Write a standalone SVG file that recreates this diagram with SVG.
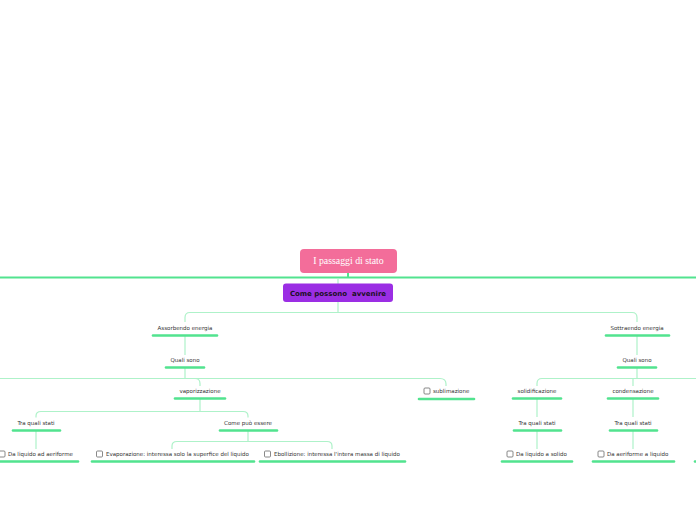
<svg xmlns="http://www.w3.org/2000/svg" width="696" height="520" viewBox="0 0 696 520">
<style>
.c{fill:none;stroke:#aef2c9;stroke-width:1.2}
.m{fill:none;stroke:#52e38f;stroke-width:2}
.u{stroke:#52e38f;stroke-width:2.6;stroke-linecap:round}
.t{font-family:"DejaVu Sans",Verdana,sans-serif;font-size:5.5px;fill:#333}
.mid{text-anchor:middle}
.cb{fill:#fff;stroke:#6b6b6b;stroke-width:0.8}
</style>
<rect width="696" height="520" fill="#fff"/>
<g id="connectors">
<path class="m" d="M0,277.5 H696"/>
<path class="m" d="M348,273 V277"/>
<path class="c" d="M338,278.5 V284"/>
<path class="c" d="M338,302 V312.5"/>
<path class="c" d="M185,322 V317.5 Q185,312.5 190,312.5 H632 Q637,312.5 637,317.5 V322"/>
<path class="c" d="M185,336 V355"/>
<path class="c" d="M185,368 V378.5"/>
<path class="c" d="M0,378.5 H195 Q200,378.5 200,383.5 V386"/>
<path class="c" d="M195,378.5 H440 Q446,378.5 446,384 V386"/>
<path class="c" d="M200,399 V411.5"/>
<path class="c" d="M36,417.5 V416 Q36,411.5 41,411.5 H243 Q248,411.5 248,416 V417.5"/>
<path class="c" d="M36,431 V449"/>
<path class="c" d="M248,431 V441.5"/>
<path class="c" d="M172,449 V446 Q172,441.5 177,441.5 H327 Q332,441.5 332,446 V449"/>
<path class="c" d="M637,336 V355"/>
<path class="c" d="M637,368 V378.5"/>
<path class="c" d="M696,378.5 H542 Q537,378.5 537,383.5 V386"/>
<path class="c" d="M633,378.5 V386"/>
<path class="c" d="M537,399 V417"/>
<path class="c" d="M537,431 V449"/>
<path class="c" d="M633,399 V417"/>
<path class="c" d="M633,431 V449"/>
</g>
<g id="root">
<rect x="300" y="249" width="97" height="24" rx="4" fill="#f36d9a"/>
<text x="348.5" y="264" text-anchor="middle" font-family="'Liberation Serif','DejaVu Serif',serif" font-size="9.8" fill="#fff">I passaggi di stato</text>
</g>
<g id="come-possono">
<rect x="283" y="283.5" width="110" height="18.5" rx="3" fill="#9b2ee4"/>
<text x="338" y="295.5" text-anchor="middle" font-family="'DejaVu Sans',Verdana,sans-serif" font-size="7" font-weight="bold" fill="#1c1026" xml:space="preserve">Come possono  avvenire</text>
</g>
<g id="assorbendo">
<text class="t mid" x="185" y="330">Assorbendo energia</text>
<line class="u" x1="153" y1="335.5" x2="217" y2="335.5"/>
</g>
<g id="quali-sono-l">
<text class="t mid" x="185" y="362">Quali sono</text>
<line class="u" x1="166" y1="367.5" x2="204" y2="367.5"/>
</g>
<g id="vaporizzazione">
<text class="t mid" x="200" y="393">vaporizzazione</text>
<line class="u" x1="175" y1="398.5" x2="225" y2="398.5"/>
</g>
<g id="sublimazione">
<rect class="cb" x="424" y="388" width="6" height="6" rx="1"/>
<text class="t" x="433" y="393">sublimazione</text>
<line class="u" x1="419" y1="399" x2="474" y2="399"/>
</g>
<g id="tra-quali-l">
<text class="t mid" x="36" y="425">Tra quali stati</text>
<line class="u" x1="13" y1="430.5" x2="60" y2="430.5"/>
</g>
<g id="come-puo">
<text class="t mid" x="248" y="425">Come può essere</text>
<line class="u" x1="220" y1="430.5" x2="277" y2="430.5"/>
</g>
<g id="liquido-aeriforme">
<rect class="cb" x="-1" y="451" width="6" height="6" rx="1"/>
<text class="t" x="8" y="456">Da liquido ad aeriforme</text>
<line class="u" x1="0" y1="461.5" x2="78" y2="461.5"/>
</g>
<g id="evaporazione">
<rect class="cb" x="96.5" y="451" width="6" height="6" rx="1"/>
<text class="t" x="106" y="456">Evaporazione: interessa solo la superfice del liquido</text>
<line class="u" x1="92" y1="461.5" x2="254" y2="461.5"/>
</g>
<g id="ebollizione">
<rect class="cb" x="264.5" y="451" width="6" height="6" rx="1"/>
<text class="t" x="274" y="456">Ebollizione: interessa l'intera massa di liquido</text>
<line class="u" x1="260" y1="461.5" x2="405" y2="461.5"/>
</g>
<g id="sottraendo">
<text class="t mid" x="637" y="330">Sottraendo energia</text>
<line class="u" x1="606" y1="335.5" x2="669" y2="335.5"/>
</g>
<g id="quali-sono-r">
<text class="t mid" x="637" y="362">Quali sono</text>
<line class="u" x1="618" y1="367.5" x2="656" y2="367.5"/>
</g>
<g id="solidificazione">
<text class="t mid" x="537" y="393">solidificazione</text>
<line class="u" x1="513" y1="398.5" x2="561" y2="398.5"/>
</g>
<g id="condensazione">
<text class="t mid" x="633" y="393">condensazione</text>
<line class="u" x1="608" y1="398.5" x2="658" y2="398.5"/>
</g>
<g id="tra-quali-s">
<text class="t mid" x="537" y="425">Tra quali stati</text>
<line class="u" x1="514" y1="430.5" x2="561" y2="430.5"/>
</g>
<g id="tra-quali-c">
<text class="t mid" x="633" y="425">Tra quali stati</text>
<line class="u" x1="610" y1="430.5" x2="657" y2="430.5"/>
</g>
<g id="liquido-solido">
<rect class="cb" x="507" y="451" width="6" height="6" rx="1"/>
<text class="t" x="516" y="456">Da liquido a solido</text>
<line class="u" x1="502" y1="461.5" x2="572" y2="461.5"/>
</g>
<g id="aeriforme-liquido">
<rect class="cb" x="598" y="451" width="6" height="6" rx="1"/>
<text class="t" x="607" y="456">Da aeriforme a liquido</text>
<line class="u" x1="593" y1="461.5" x2="674" y2="461.5"/>
</g>
<g id="offscreen-right">
<line class="u" x1="695" y1="461.5" x2="700" y2="461.5"/>
</g>
</svg>
